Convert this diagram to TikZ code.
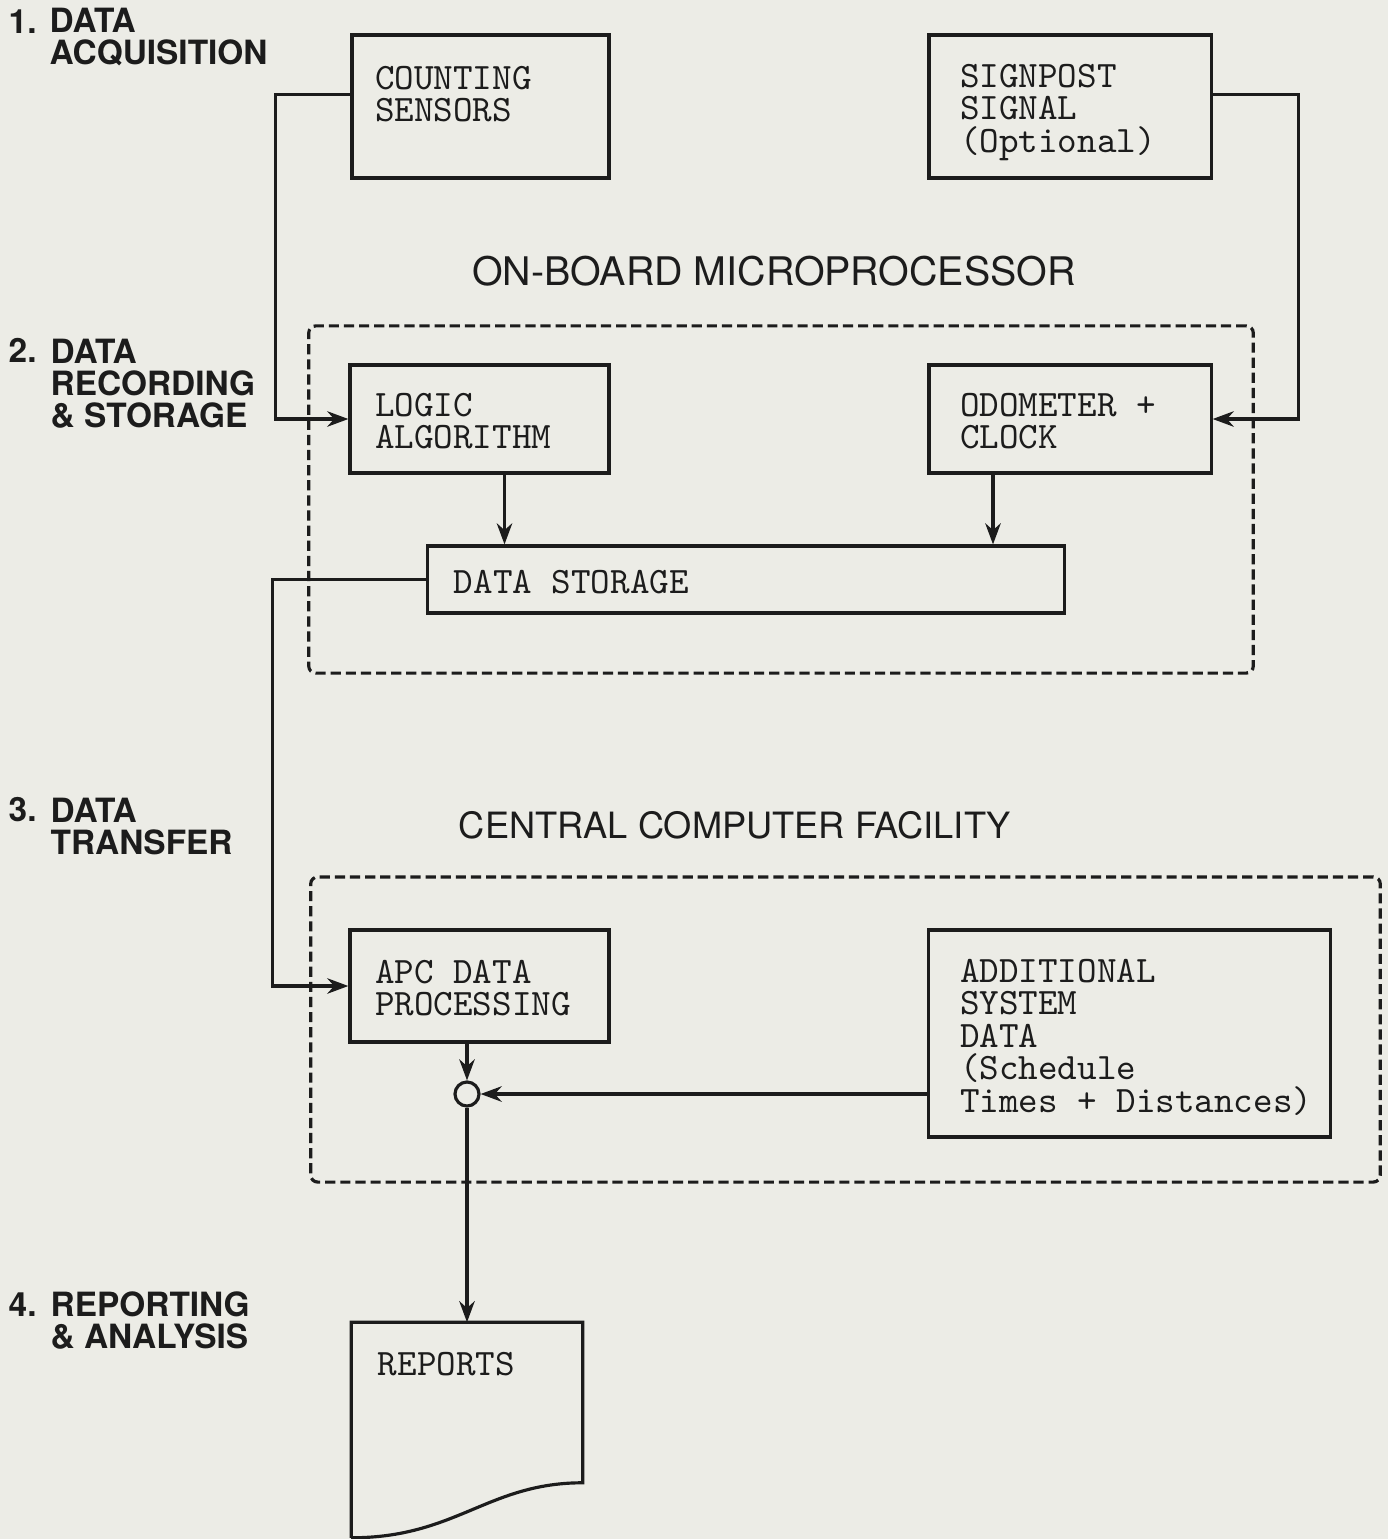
\documentclass[tikz,border=0pt]{standalone}
\usepackage{fontspec}
\newfontfamily\headfont{TeX Gyre Heros}
\usetikzlibrary{positioning, arrows.meta, calc}
\definecolor{paper}{RGB}{236,236,230}
\definecolor{ink}{RGB}{28,28,28}

\begin{document}
\begin{tikzpicture}[
  x=0.01cm, y=-0.01cm,
  box/.style={draw=ink, line width=0.9pt, inner sep=0pt},
  group/.style={draw=ink, line width=0.9pt, dash pattern=on 2.9pt off 1.4pt, rounded corners=2pt, inner sep=0pt},
  txt/.style={font=\ttfamily\fontsize{10.6}{9.25}\selectfont, text=ink, align=left, inner sep=0pt, anchor=base west},
  stage/.style={font=\headfont\bfseries\fontsize{9.5}{9.1}\selectfont, text=ink, align=left, inner sep=0pt, anchor=base west},
  title/.style={font=\headfont\fontsize{11.2}{11}\selectfont, text=ink, inner sep=0pt, anchor=base},
  junction/.style={circle, draw=ink, line width=0.9pt, minimum size=0.24cm, inner sep=0pt},
  arr/.style={-{Stealth[length=6pt, width=4.4pt]}, draw=ink, line width=0.9pt}
]
  \fill[paper] (0,0) rectangle (1388,1539);
  \useasboundingbox (0,0) rectangle (1388,1539);

  \node[stage] (n1) at (8,33) {1.};
  \node[stage] (s1) at (49,64) {DATA\\ACQUISITION};
  \node[stage] (n2) at (8,362) {2.};
  \node[stage] (s2) at (50,427) {DATA\\RECORDING\\\& STORAGE};
  \node[stage] (n3) at (8,821) {3.};
  \node[stage] (s3) at (50,854) {DATA\\TRANSFER};
  \node[stage] (n4) at (8,1316) {4.};
  \node[stage] (s4) at (50,1348) {REPORTING\\\& ANALYSIS};

  \node[box, minimum width=2.57cm, minimum height=1.43cm] (cs) at (480.5,106.5) {};
  \node[box, minimum width=2.82cm, minimum height=1.43cm] (sp) at (1070,106.5) {};
  \node[txt] (cst) at ($(cs.north west)+(24,88.5)$) {COUNTING\\SENSORS};
  \node[txt] (spt) at ($(sp.north west)+(32,119)$) {SIGNPOST\\SIGNAL\\(Optional)};

  \node[title] (obt) at (774,285) {ON-BOARD MICROPROCESSOR};
  \node[group, minimum width=9.44cm, minimum height=3.47cm] (ob) at (781,499.5) {};
  \node[box, minimum width=2.59cm, minimum height=1.08cm] (logic) at (479.5,419) {};
  \node[box, minimum width=2.82cm, minimum height=1.08cm] (odo) at (1070,419) {};
  \node[box, minimum width=6.36cm, minimum height=0.67cm] (ds) at (746,579.5) {};
  \node[txt] (lgt) at ($(logic.north west)+(26,85.5)$) {LOGIC\\ALGORITHM};
  \node[txt] (odt) at ($(odo.north west)+(32,85.5)$) {ODOMETER +\\CLOCK};
  \node[txt] (dst) at ($(ds.north west)+(27,49)$) {DATA STORAGE};

  \node[title, font=\headfont\fontsize{10.3}{11}\selectfont] (cct) at (735,838) {CENTRAL COMPUTER FACILITY};
  \node[group, minimum width=10.69cm, minimum height=3.05cm] (ccf) at (845.5,1029.5) {};
  \node[box, minimum width=2.59cm, minimum height=1.12cm] (apc) at (479.5,986) {};
  \node[box, minimum width=4.01cm, minimum height=2.07cm] (add) at (1129.5,1033.5) {};
  \node[junction] (jn) at (467,1094) {};
  \node[txt] (apt) at ($(apc.north west)+(26,87.5)$) {APC DATA\\PROCESSING};
  \node[txt] (adt) at ($(add.north west)+(32,184)$) {ADDITIONAL\\SYSTEM\\DATA\\(Schedule\\Times + Distances)};

  \node[minimum width=2.30cm, minimum height=2.14cm, inner sep=0pt] (rep) at (467,1430) {};
  \draw[box] (rep.south west) -- (rep.north west) -- (rep.north east) -- ($(rep.south east)+(0,-55)$)
    .. controls +(-95,0) and +(105,0) .. (rep.south west);
  \node[txt] (rpt) at ($(rep.north west)+(26,53)$) {REPORTS};

  \draw[arr] ($(cs.west)+(0,-12)$) -- ++(-75,0) |- (logic.west);
  \draw[arr] ($(sp.east)+(0,-12)$) -- ++(86,0) |- (odo.east);
  \draw[arr] ($(logic.south)+(25,0)$) coordinate (la) -- (la |- ds.north);
  \draw[arr] ($(odo.south)+(-77,0)$) coordinate (oa) -- (oa |- ds.north);
  \draw[arr] (ds.west) -- ++(-154,0) |- (apc.west);
  \draw[arr] (apc.south -| jn) -- (jn);
  \draw[arr] (add.west |- jn) -- (jn);
  \draw[arr] (jn) -- (rep.north);
\end{tikzpicture}
\end{document}
